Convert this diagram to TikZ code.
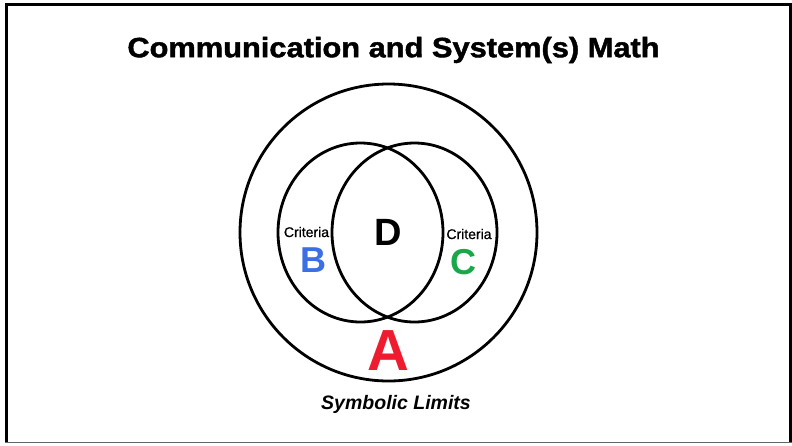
\documentclass[tikz,border=0pt]{standalone}
\usepackage{fontspec}
\setmainfont{Liberation Sans}
\usetikzlibrary{shapes.geometric}
\definecolor{bblue}{HTML}{3B6FE3}
\definecolor{cgreen}{HTML}{18A84A}
\definecolor{ared}{HTML}{EE1C2E}
\tikzset{
  ring/.style={draw=black, line width=2.8pt, inner sep=0pt},
  crit/.style={font=\fontsize{14}{14}\selectfont\addfontfeature{FakeBold=0.8}, inner sep=0pt},
  letter/.style={font=\fontsize{#1}{#1}\selectfont\bfseries, inner sep=0pt},
}
\begin{document}
\begin{tikzpicture}[x=1pt,y=-1pt]
\useasboundingbox (0,0) rectangle (792,445);
\fill[white] (0,0) rectangle (792,445);
% frame
\draw[line width=3pt] (6.5,442) -- (6.5,4.5) -- (790,4.5) -- (790,442);
\draw[line width=1pt, black!60] (5,442) -- (791.5,442);
% title
\node[inner sep=0pt, font=\fontsize{28}{28}\selectfont\bfseries\addfontfeature{FakeBold=1.5}] (title) at (393.5,50) {\scalebox{1.1}[1]{Communication and System(s) Math}};
% circles
\node[ring, circle, minimum size=297pt] (outer) at (388.5,232.5) {};
\node[ring, ellipse, minimum width=165pt, minimum height=179pt] (left) at (360.5,232.5) {};
\node[ring, ellipse, minimum width=165pt, minimum height=179pt] (right) at (414.5,232.5) {};
% labels
\node[crit] (critB) at (306.5,232) {Criteria};
\node[crit] (critC) at (469,234) {Criteria};
\node[letter=36, text=bblue] (B) at (313,260) {B};
\node[letter=36, text=cgreen] (C) at (463,262) {C};
\node[letter=38] (D) at (388,232) {D};
\node[letter=58, text=ared] (A) at (388,351) {A};
\node[inner sep=0pt, font=\fontsize{19.5}{19.5}\selectfont\bfseries\itshape] (sym) at (396,404) {Symbolic Limits};
\end{tikzpicture}
\end{document}
